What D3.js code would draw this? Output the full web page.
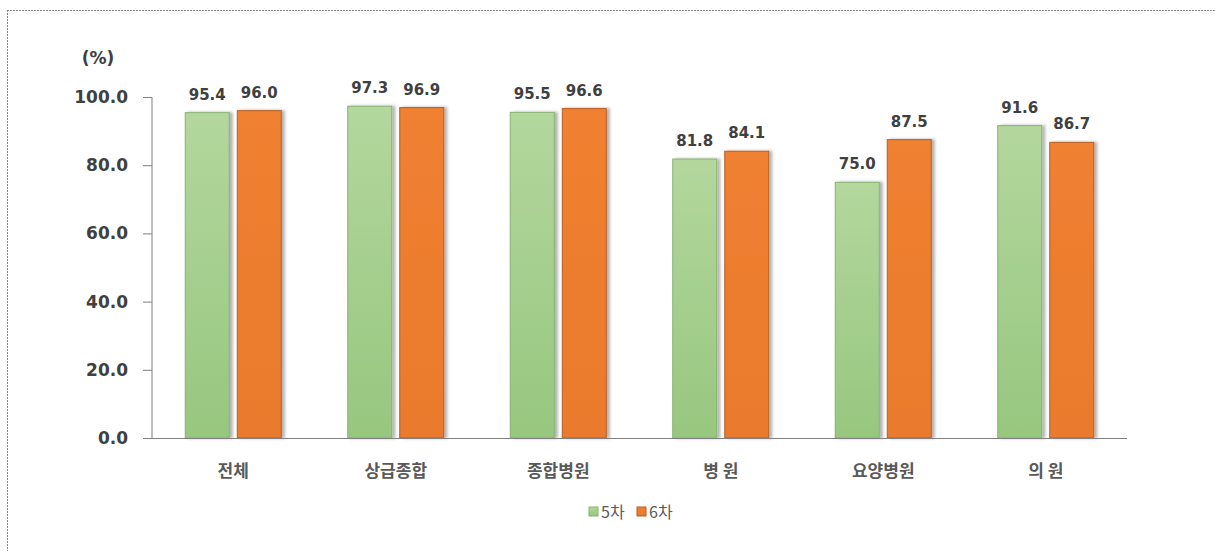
<!DOCTYPE html>
<html>
<head>
<meta charset="utf-8">
<script src="https://cdn.jsdelivr.net/npm/d3@7"></script>
<style>
  html, body { margin: 0; padding: 0; background: #fff; }
  svg { display: block; font-family: "Noto Sans CJK KR", "Noto Sans", sans-serif; }
</style>
</head>
<body>
<svg width="1215" height="551"></svg>
<script>
'use strict';

const categories = ["전체", "상급종합", "종합병원", "병 원", "요양병원", "의 원"];
const series = ["5차", "6차"];
const values5 = [95.4, 97.3, 95.5, 81.8, 75.0, 91.6];
const values6 = [96.0, 96.9, 96.6, 84.1, 87.5, 86.7];
const yTicks = [0, 20, 40, 60, 80, 100];

const svg = d3.select("svg");
const width = parseFloat(svg.attr("width"));
const numFont = "'DejaVu Sans', sans-serif";

// dotted frame (top + left only are visible)
svg.append("line")
    .attr("x1", 7).attr("x2", width).attr("y1", 10.5).attr("y2", 10.5)
    .attr("stroke", "#888").attr("stroke-dasharray", "2,1");
svg.append("line")
    .attr("x1", 7.5).attr("x2", 7.5).attr("y1", 10).attr("y2", 551)
    .attr("stroke", "#888").attr("stroke-dasharray", "2,1");

const defs = svg.append("defs");
const gGreen = defs.append("linearGradient").attr("id", "gGreen")
    .attr("x1", 0).attr("y1", 0).attr("x2", 0).attr("y2", 1);
gGreen.append("stop").attr("offset", "0%").attr("stop-color", "#b3d79d");
gGreen.append("stop").attr("offset", "100%").attr("stop-color", "#97c77f");
const gOrange = defs.append("linearGradient").attr("id", "gOrange")
    .attr("x1", 0).attr("y1", 0).attr("x2", 0).attr("y2", 1);
gOrange.append("stop").attr("offset", "0%").attr("stop-color", "#f08030");
gOrange.append("stop").attr("offset", "100%").attr("stop-color", "#ea7a2e");

const shadow = defs.append("filter").attr("id", "shadow")
    .attr("x", "-20%").attr("y", "-10%").attr("width", "150%").attr("height", "120%");
shadow.append("feDropShadow")
    .attr("dx", 3).attr("dy", 0).attr("stdDeviation", 1.5)
    .attr("flood-color", "#000").attr("flood-opacity", 0.3);

const x0 = 152, x1 = 1127;
const y = d3.scaleLinear().domain([0, 100]).range([438, 97]);
const x = d3.scaleBand().domain(categories).range([x0, x1]).padding(0);
const barW = 44, gap = 8;

const fills = ["url(#gGreen)", "url(#gOrange)"];
const strokes = ["#86b36c", "#b85e22"];
const data = [values5, values6];

// y axis
const yAxis = d3.axisLeft(y).tickValues(yTicks).tickFormat(d3.format(".1f"))
    .tickSize(9).tickPadding(15);
const ya = svg.append("g").attr("transform", `translate(${x0},0)`).call(yAxis);
ya.select(".domain").attr("stroke", "#808080").attr("d", `M0,${y(100)}V${y(0)}`);
ya.selectAll(".tick line").attr("stroke", "#808080");
ya.selectAll(".tick text")
    .attr("fill", "#404040").attr("font-size", 17).attr("font-weight", "bold")
    .attr("font-family", numFont);

svg.append("text")
    .attr("x", 98).attr("y", 64).attr("text-anchor", "middle")
    .attr("fill", "#404040").attr("font-size", 17).attr("font-weight", "bold")
    .attr("font-family", numFont)
    .text("(%)");

// bars
series.forEach((s, si) => {
    const g = svg.append("g");
    g.selectAll("rect").data(data[si]).join("rect")
        .attr("x", (d, i) => x(categories[i]) + x.bandwidth() / 2 + (si === 0 ? -gap / 2 - barW : gap / 2))
        .attr("y", d => y(d))
        .attr("width", barW)
        .attr("height", d => y(0) - y(d))
        .attr("fill", fills[si])
        .attr("stroke", strokes[si])
        .attr("stroke-width", 1)
        .attr("filter", "url(#shadow)");
    g.selectAll("text").data(data[si]).join("text")
        .attr("x", (d, i) => x(categories[i]) + x.bandwidth() / 2 + (si === 0 ? -gap / 2 - barW / 2 : gap / 2 + barW / 2))
        .attr("y", d => y(d) - 13)
        .attr("text-anchor", "middle")
        .attr("fill", "#404040").attr("font-size", 15).attr("font-weight", "bold")
        .attr("font-family", numFont)
        .text(d => d.toFixed(1));
});

// x axis baseline
svg.append("line")
    .attr("x1", x0 - 9).attr("x2", x1).attr("y1", y(0) + 0.5).attr("y2", y(0) + 0.5)
    .attr("stroke", "#808080");

svg.append("g").selectAll("text").data(categories).join("text")
    .attr("x", d => x(d) + x.bandwidth() / 2)
    .attr("y", 477)
    .attr("text-anchor", "middle")
    .attr("fill", "#595959").attr("font-size", 17).attr("font-weight", "bold")
    .text(d => d);

// legend
const legend = svg.append("g").attr("transform", "translate(589,518)");
const legX = [0, 48];
series.forEach((s, si) => {
    legend.append("rect")
        .attr("x", legX[si]).attr("y", -11).attr("width", 9).attr("height", 9)
        .attr("fill", fills[si]).attr("stroke", strokes[si]);
    legend.append("text")
        .attr("x", legX[si] + 12).attr("y", 0)
        .attr("fill", "#595959").attr("font-size", 16)
        .text(s);
});
</script>
</body>
</html>
